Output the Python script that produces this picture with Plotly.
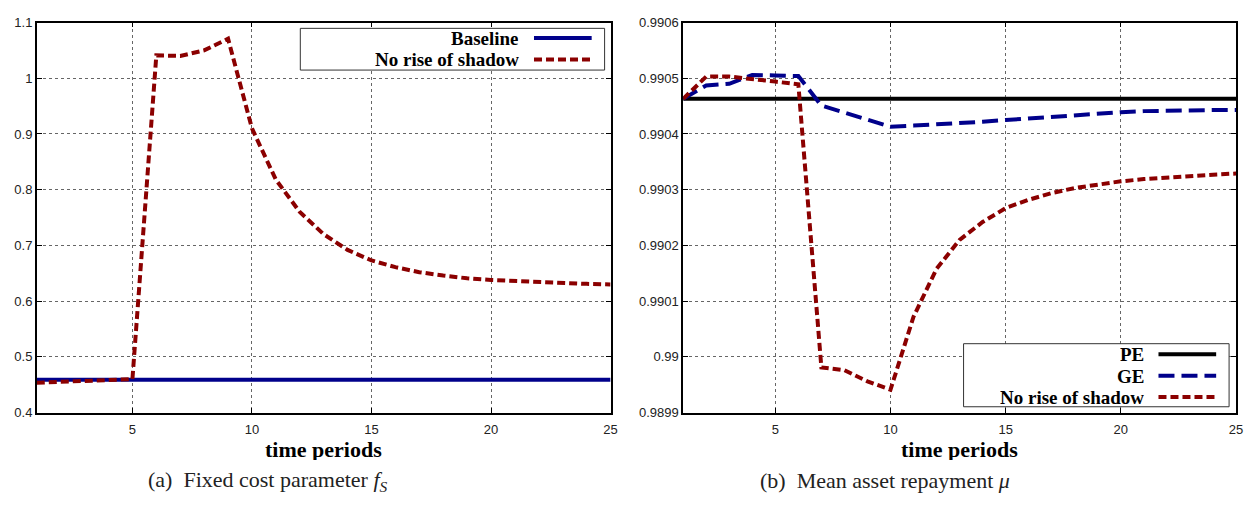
import plotly.graph_objects as go
from plotly.subplots import make_subplots

# ---------------- data ----------------
t = list(range(1, 26))

# (a) Fixed cost parameter f_S
baseline_fs = [0.459] * 25
norise_fs = [0.4536, 0.455, 0.456, 0.458, 0.460, 1.041, 1.040, 1.050, 1.071, 0.910,
             0.818, 0.760, 0.720, 0.692, 0.673, 0.661, 0.652, 0.646, 0.641, 0.638,
             0.636, 0.634, 0.632, 0.631, 0.630]

# (b) Mean asset repayment mu
pe_mu = [0.990463] * 25
ge_mu = [0.990463, 0.990487, 0.990490, 0.990506, 0.990505, 0.990504, 0.990451, 0.990438,
         0.990425, 0.990413, 0.990415, 0.990417, 0.990420, 0.990422, 0.990425, 0.990428,
         0.990431, 0.990434, 0.990437, 0.990439, 0.990441, 0.990442, 0.990442, 0.990443,
         0.990443]
norise_mu = [0.990463, 0.990503, 0.990503, 0.990499, 0.990494, 0.990489, 0.989981, 0.989976,
             0.989956, 0.989941, 0.990072, 0.990158, 0.990210, 0.990242, 0.990267, 0.990282,
             0.990294, 0.990303, 0.990309, 0.990315, 0.990319, 0.990322, 0.990325, 0.990327,
             0.990329]

x_ticks = [5, 10, 15, 20, 25]
y_ticks_a = [0.4, 0.5, 0.6, 0.7, 0.8, 0.9, 1.0, 1.1]
y_labels_a = ["0.4", "0.5", "0.6", "0.7", "0.8", "0.9", "1", "1.1"]
y_ticks_b = [0.9899, 0.9900, 0.9901, 0.9902, 0.9903, 0.9904, 0.9905, 0.9906]
y_labels_b = ["0.9899", "0.99", "0.9901", "0.9902", "0.9903", "0.9904", "0.9905", "0.9906"]

NAVY = "#00008b"
DRED = "#8b0000"
W, H = 1251, 505


def px(x):
    return x / W


def py(y):
    return 1 - y / H


fig = make_subplots(rows=1, cols=2)

fig.add_trace(go.Scatter(x=t, y=baseline_fs, mode="lines",
                         line=dict(color=NAVY, width=4), showlegend=False), 1, 1)
fig.add_trace(go.Scatter(x=t, y=norise_fs, mode="lines",
                         line=dict(color=DRED, width=4, dash="8px,4px"), showlegend=False), 1, 1)

fig.add_trace(go.Scatter(x=t, y=pe_mu, mode="lines",
                         line=dict(color="black", width=4), showlegend=False), 1, 2)
fig.add_trace(go.Scatter(x=t, y=ge_mu, mode="lines",
                         line=dict(color=NAVY, width=4, dash="16px,7px"), showlegend=False), 1, 2)
fig.add_trace(go.Scatter(x=t, y=norise_mu, mode="lines",
                         line=dict(color=DRED, width=4, dash="8px,4px"), showlegend=False), 1, 2)

tickfont = dict(family="Liberation Sans, Arial, sans-serif", size=13, color="#222")
common_axis = dict(showline=True, linecolor="black", linewidth=1.5, mirror="ticks",
                   ticks="inside", ticklen=5, tickcolor="black", tickwidth=1,
                   showgrid=True, gridcolor="#666", gridwidth=1, griddash="dot",
                   zeroline=False, tickfont=tickfont)

fig.update_xaxes(range=[1, 25], tickvals=x_ticks, ticktext=[str(v) for v in x_ticks],
                 ticklabelstandoff=4, **common_axis)
fig.update_yaxes(**common_axis)

fig.update_layout(
    xaxis=dict(domain=[px(37), px(614)]),
    xaxis2=dict(domain=[px(687), px(1243)]),
    yaxis=dict(domain=[py(418), py(16)], range=[0.4, 1.1], tickvals=y_ticks_a, ticktext=y_labels_a),
    yaxis2=dict(domain=[py(418), py(16)], range=[0.9899, 0.9906], tickvals=y_ticks_b, ticktext=y_labels_b),
)

serif = "Liberation Serif, Times New Roman, serif"
annotations = []
shapes = []

# axis titles
for cx in (325, 965):
    annotations.append(dict(x=px(cx), y=py(456), xref="paper", yref="paper", showarrow=False,
                            text="<b>time periods</b>", font=dict(family=serif, size=22, color="black"),
                            xanchor="center", yanchor="middle", height=22, borderpad=0))

# captions
annotations.append(dict(x=px(270), y=py(488), xref="paper", yref="paper", showarrow=False,
                        text="(a)  Fixed cost parameter <i>f<sub>S</sub></i>",
                        font=dict(family=serif, size=22, color="#222"), xanchor="center", yanchor="middle"))
annotations.append(dict(x=px(890), y=py(488), xref="paper", yref="paper", showarrow=False,
                        text="(b)  Mean asset repayment <i>μ</i>",
                        font=dict(family=serif, size=22, color="#222"), xanchor="center", yanchor="middle"))

# manual legends (symbol to the right of the label, gnuplot style)
def legend(box, text_right, line_x, entries):
    x0, y0, x1, y1 = box
    shapes.append(dict(type="rect", xref="paper", yref="paper", x0=px(x0), x1=px(x1),
                       y0=py(y1), y1=py(y0), line=dict(color="#333", width=1),
                       fillcolor="white", layer="above"))
    for label, yy, color, dash in entries:
        annotations.append(dict(x=px(text_right), y=py(yy), xref="paper", yref="paper", showarrow=False,
                                text="<b>" + label + "</b>",
                                font=dict(family=serif, size=19, color="black"),
                                xanchor="right", yanchor="middle", height=20, borderpad=0))
        shapes.append(dict(type="line", xref="paper", yref="paper", x0=px(line_x[0]), x1=px(line_x[1]),
                           y0=py(yy), y1=py(yy), line=dict(color=color, width=4, dash=dash),
                           layer="above"))


legend((302, 22, 608, 65), 523, (537, 595),
       [("Baseline", 32, NAVY, "solid"), ("No rise of shadow", 54, DRED, "8px,4px")])
legend((969, 347, 1236, 412), 1151, (1165, 1223),
       [("PE", 358, "black", "solid"), ("GE", 380, NAVY, "16px,7px"),
        ("No rise of shadow", 402, DRED, "8px,4px")])

fig.update_layout(width=W, height=H, margin=dict(l=0, r=0, t=0, b=0),
                  paper_bgcolor="white", plot_bgcolor="white",
                  annotations=annotations, shapes=shapes, showlegend=False)

fig.write_html("out.html")
